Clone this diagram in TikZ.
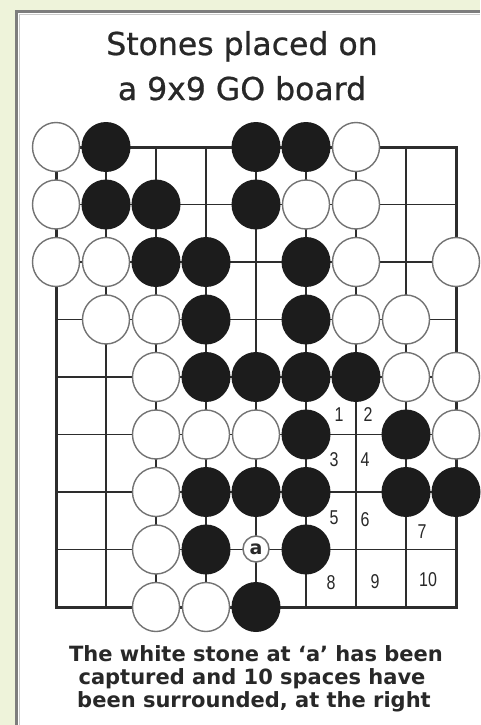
\documentclass[tikz,border=0pt]{standalone}
\usepackage{fontspec}
\setmainfont{DejaVu Sans}
\newfontfamily\titlefont[FakeBold=0.7]{DejaVu Sans}
\newfontfamily\numfont{Liberation Sans}
\definecolor{bgc}{RGB}{238,243,218}
\definecolor{framec}{RGB}{125,125,125}
\definecolor{linec}{RGB}{45,45,45}
\definecolor{blackst}{RGB}{28,28,28}
\definecolor{whiteedge}{RGB}{115,115,115}
\definecolor{textc}{RGB}{40,40,40}
\begin{document}
\begin{tikzpicture}[x=1pt,y=-1pt,
  gridline/.style={draw=linec,line width=1.4pt},
  edgeline/.style={draw=linec,line width=3pt},
  bstone/.style={fill=blackst},
  wstone/.style={fill=white,draw=whiteedge,line width=1.4pt},
  numlabel/.style={font=\numfont\fontsize{20}{20}\selectfont,text=textc,inner sep=0pt},
  titletext/.style={font=\titlefont\fontsize{31.5}{31.5}\selectfont,text=textc,anchor=base,inner sep=0pt},
  captext/.style={font=\bfseries\fontsize{21}{21}\selectfont,text=textc,anchor=base,inner sep=0pt}]
\useasboundingbox (0,0) rectangle (480,725);
\fill[bgc] (0,0) rectangle (480,725);
\fill[white] (16,12) rectangle (480,725);
\draw[framec,line width=3pt] (16,725) -- (16,12) -- (480,12);
\draw[framec!40,line width=1pt] (19,725) -- (19,15) -- (480,15);
% title
\node[titletext] (t1) at (242,55) {Stones placed on};
\node[titletext] (t2) at (242,100) {a 9x9 GO board};
% grid
\foreach \i in {1,...,7} \draw[gridline] ({56+50*\i},147) -- ({56+50*\i},607);
\foreach \j in {1,...,7} \draw[gridline] (56,{147+57.5*\j}) -- (456,{147+57.5*\j});
\draw[edgeline] (56,147) rectangle (456,607);
% black stones
\foreach \c/\r in {1/0,4/0,5/0, 1/1,2/1,4/1, 2/2,3/2,5/2, 3/3,5/3, 3/4,4/4,5/4,6/4,
  5/5,7/5, 3/6,4/6,5/6,7/6,8/6, 3/7,5/7, 4/8}
  \fill[bstone] ({56+50*\c},{147+57.5*\r}) ellipse [x radius=24.5pt, y radius=25pt];
% white stones
\foreach \c/\r in {0/0,6/0, 0/1,5/1,6/1, 0/2,1/2,6/2,8/2, 1/3,2/3,6/3,7/3,
  2/4,7/4,8/4, 2/5,3/5,4/5,8/5, 2/6, 2/7, 2/8,3/8}
  \draw[wstone] ({56+50*\c},{147+57.5*\r}) ellipse [x radius=23.5pt, y radius=24.5pt];
% captured stone a
\node[circle,fill=white,draw=whiteedge,line width=1.5pt,minimum size=26pt,inner sep=0pt,
  font=\bfseries\fontsize{19}{19}\selectfont,text=textc] (a) at (256,549) {a};
% territory numbers
\node[numlabel] (n1) at (339,415) {\scalebox{0.8}[1]{1}};
\node[numlabel] (n2) at (368,415) {\scalebox{0.8}[1]{2}};
\node[numlabel] (n3) at (334,460) {\scalebox{0.8}[1]{3}};
\node[numlabel] (n4) at (365,460) {\scalebox{0.8}[1]{4}};
\node[numlabel] (n5) at (334,518) {\scalebox{0.8}[1]{5}};
\node[numlabel] (n6) at (365,520) {\scalebox{0.8}[1]{6}};
\node[numlabel] (n7) at (422,532) {\scalebox{0.8}[1]{7}};
\node[numlabel] (n8) at (331,583) {\scalebox{0.8}[1]{8}};
\node[numlabel] (n9) at (375,582) {\scalebox{0.8}[1]{9}};
\node[numlabel] (n10) at (428,580) {\scalebox{0.8}[1]{10}};
% caption
\node[captext] (c1) at (256,661) {The white stone at `a' has been};
\node[captext] (c2) at (252,684) {captured and 10 spaces have};
\node[captext] (c3) at (254,707) {been surrounded, at the right};
\end{tikzpicture}
\end{document}
